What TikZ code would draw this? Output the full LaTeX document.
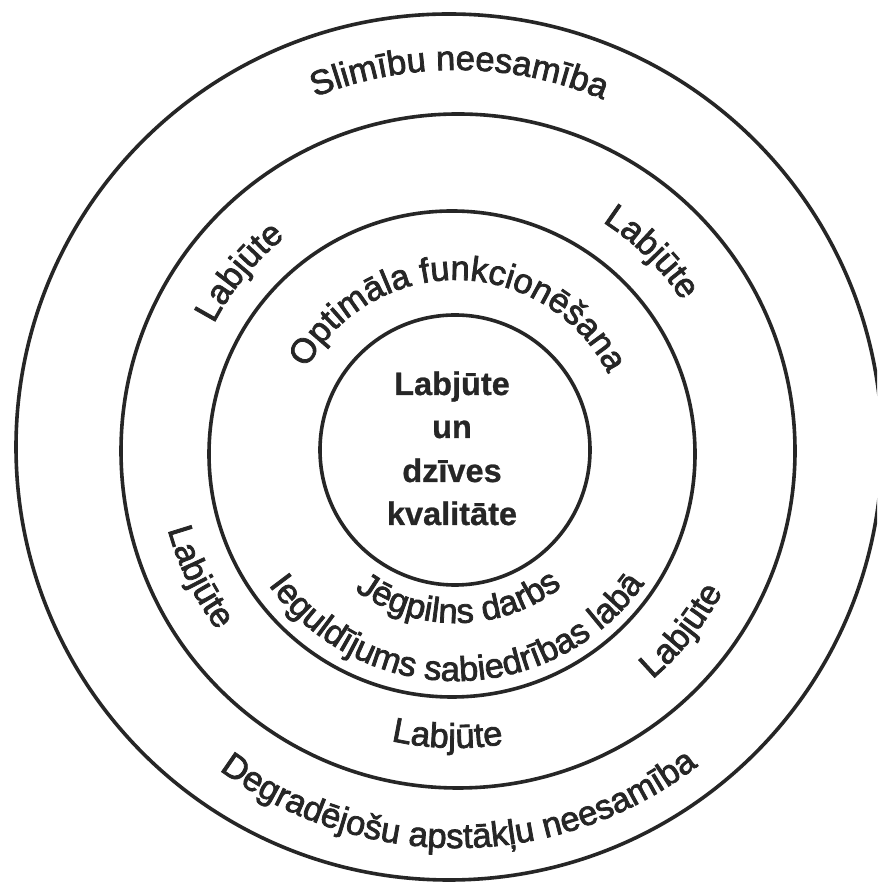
\documentclass[tikz,border=0pt]{standalone}
\usepackage{fontspec}
\setmainfont{Liberation Sans}
\newfontfamily\ringfont[FakeBold=2.2]{Liberation Sans}
\newfontfamily\centfont[FakeBold=0.8]{Liberation Sans}
\usetikzlibrary{decorations.text}
\definecolor{ink}{HTML}{262626}
\newcommand\rfnt{\ringfont\fontsize{34.5}{40}\selectfont}
\newcommand\cfnt{\centfont\bfseries\fontsize{32.5}{38}\selectfont}
\begin{document}
\begin{tikzpicture}[x=1pt,y=1pt,
  ring/.style={draw=ink, line width=3.6pt},
  ctext/.style={anchor=base, font=\cfnt, text=ink, inner sep=0pt},
  arctext/.style={shift={(456,432)}, decorate,
    decoration={text along path, text align=center, text color=ink,
      text={|\rfnt|#1}}}]
\useasboundingbox (0,0) rectangle (877,882);
\clip (0,0) rectangle (877,882);
\fill[white] (0,0) rectangle (877,882);

% rings
\coordinate (c0) at (449,435);
\coordinate (c1) at (458,431);
\coordinate (c2) at (452,428);
\coordinate (c3) at (455,432);
\draw[ring] (c0) circle[radius=433];
\draw[ring] (c1) circle[radius=337];
\draw[ring] (c2) circle[radius=243];
\draw[ring] (c3) circle[radius=135];

% centre text
\node[ctext] (l1) at (452,487) {Labjūte};
\node[ctext] (l2) at (452,444) {un};
\node[ctext] (l3) at (452,400) {dzīves};
\node[ctext] (l4) at (452,357) {kvalitāte};

% curved texts, outer ring
\path[arctext={Slimību neesamība}] (149.5:380) arc[start angle=149.5, end angle=29.5, radius=380];
\path[arctext={Degradējošu apstākļu neesamība}] (210.5:398) arc[start angle=210.5, end angle=330.5, radius=398];

% second ring
\path[arctext={Labjūte}] (170.6:273) arc[start angle=170.6, end angle=110.6, radius=273];
\path[arctext={Labjūte}] (75.3:271) arc[start angle=75.3, end angle=15.3, radius=271];
\path[arctext={Labjūte}] (176.3:299) arc[start angle=176.3, end angle=236.3, radius=299];
\path[arctext={Labjūte}] (291.3:302) arc[start angle=291.3, end angle=351.3, radius=302];
\path[arctext={Labjūte}] (238.3:298) arc[start angle=238.3, end angle=298.3, radius=298];

% third ring
\path[arctext={Optimāla funkcionēšana}] (169:170) arc[start angle=169, end angle=9, radius=170];
\path[arctext={Ieguldījums sabiedrības labā}] (190.2:231) arc[start angle=190.2, end angle=350.2, radius=231];
\path[arctext={Jēgpilns darbs}] (221:173) arc[start angle=221, end angle=321, radius=173];
\end{tikzpicture}
\end{document}
